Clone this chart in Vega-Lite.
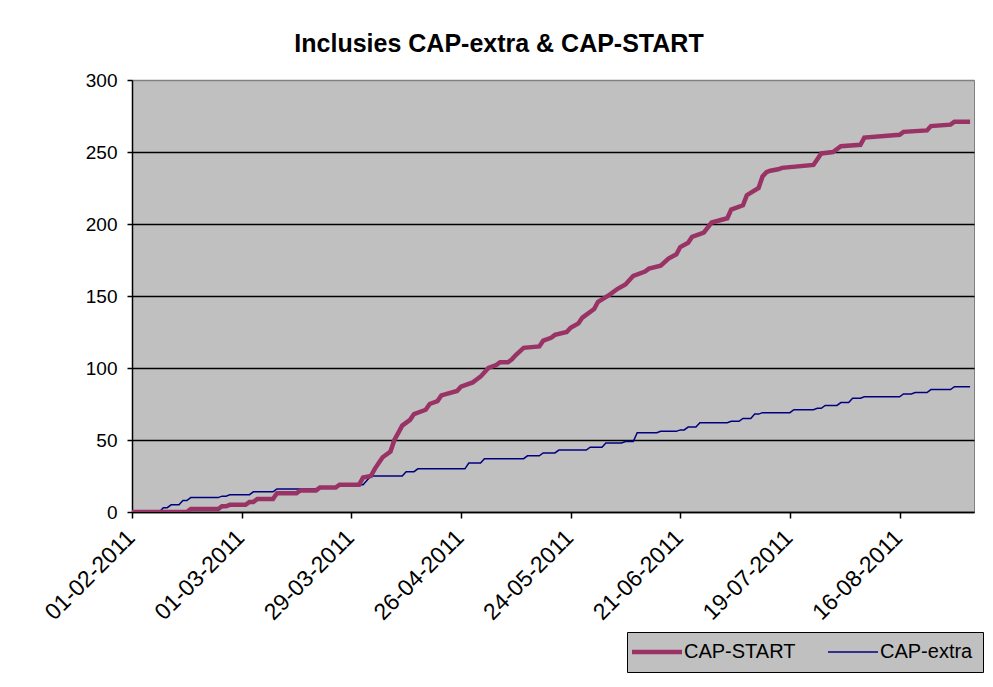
{
  "$schema": "https://vega.github.io/schema/vega-lite/v6.json",
  "width": 842,
  "height": 432,
  "autosize": {"type": "none"},
  "padding": {"left": 132, "top": 80, "right": 19, "bottom": 175},
  "background": "white",
  "title": {
    "text": "Inclusies CAP-extra & CAP-START",
    "font": "Liberation Sans",
    "fontSize": 25,
    "fontWeight": "bold",
    "color": "black",
    "anchor": "middle",
    "dx": -54,
    "offset": 14
  },
  "config": {
    "view": {"fill": "#c0c0c0", "stroke": "#808080", "strokeWidth": 1},
    "axis": {"labelFont": "Liberation Sans", "labelColor": "black", "domainColor": "black", "tickColor": "black", "domainWidth": 1.5, "tickWidth": 1.5},
    "legend": {"labelFont": "Liberation Sans"}
  },
  "data": {
    "values": [
      {"d": "2011-02-01", "s": "CAP-extra", "v": 0},
      {"d": "2011-02-08", "s": "CAP-extra", "v": 0},
      {"d": "2011-02-09", "s": "CAP-extra", "v": 3},
      {"d": "2011-02-10", "s": "CAP-extra", "v": 3},
      {"d": "2011-02-11", "s": "CAP-extra", "v": 5},
      {"d": "2011-02-13", "s": "CAP-extra", "v": 5},
      {"d": "2011-02-14", "s": "CAP-extra", "v": 8},
      {"d": "2011-02-15", "s": "CAP-extra", "v": 8},
      {"d": "2011-02-16", "s": "CAP-extra", "v": 10},
      {"d": "2011-02-23", "s": "CAP-extra", "v": 10},
      {"d": "2011-02-24", "s": "CAP-extra", "v": 11},
      {"d": "2011-02-25", "s": "CAP-extra", "v": 11},
      {"d": "2011-02-26", "s": "CAP-extra", "v": 12},
      {"d": "2011-03-03", "s": "CAP-extra", "v": 12},
      {"d": "2011-03-04", "s": "CAP-extra", "v": 14},
      {"d": "2011-03-09", "s": "CAP-extra", "v": 14},
      {"d": "2011-03-10", "s": "CAP-extra", "v": 16},
      {"d": "2011-03-20", "s": "CAP-extra", "v": 16},
      {"d": "2011-03-21", "s": "CAP-extra", "v": 17},
      {"d": "2011-03-25", "s": "CAP-extra", "v": 17},
      {"d": "2011-03-26", "s": "CAP-extra", "v": 19},
      {"d": "2011-04-01", "s": "CAP-extra", "v": 19},
      {"d": "2011-04-03", "s": "CAP-extra", "v": 25},
      {"d": "2011-04-11", "s": "CAP-extra", "v": 25},
      {"d": "2011-04-12", "s": "CAP-extra", "v": 28},
      {"d": "2011-04-14", "s": "CAP-extra", "v": 28},
      {"d": "2011-04-15", "s": "CAP-extra", "v": 30},
      {"d": "2011-04-27", "s": "CAP-extra", "v": 30},
      {"d": "2011-04-28", "s": "CAP-extra", "v": 34},
      {"d": "2011-05-01", "s": "CAP-extra", "v": 34},
      {"d": "2011-05-02", "s": "CAP-extra", "v": 37},
      {"d": "2011-05-12", "s": "CAP-extra", "v": 37},
      {"d": "2011-05-13", "s": "CAP-extra", "v": 39},
      {"d": "2011-05-16", "s": "CAP-extra", "v": 39},
      {"d": "2011-05-17", "s": "CAP-extra", "v": 41},
      {"d": "2011-05-20", "s": "CAP-extra", "v": 41},
      {"d": "2011-05-21", "s": "CAP-extra", "v": 43},
      {"d": "2011-05-28", "s": "CAP-extra", "v": 43},
      {"d": "2011-05-29", "s": "CAP-extra", "v": 45},
      {"d": "2011-06-01", "s": "CAP-extra", "v": 45},
      {"d": "2011-06-02", "s": "CAP-extra", "v": 48},
      {"d": "2011-06-06", "s": "CAP-extra", "v": 48},
      {"d": "2011-06-07", "s": "CAP-extra", "v": 49},
      {"d": "2011-06-09", "s": "CAP-extra", "v": 49},
      {"d": "2011-06-10", "s": "CAP-extra", "v": 55},
      {"d": "2011-06-15", "s": "CAP-extra", "v": 55},
      {"d": "2011-06-16", "s": "CAP-extra", "v": 56},
      {"d": "2011-06-20", "s": "CAP-extra", "v": 56},
      {"d": "2011-06-21", "s": "CAP-extra", "v": 57},
      {"d": "2011-06-22", "s": "CAP-extra", "v": 57},
      {"d": "2011-06-23", "s": "CAP-extra", "v": 59},
      {"d": "2011-06-25", "s": "CAP-extra", "v": 59},
      {"d": "2011-06-26", "s": "CAP-extra", "v": 62},
      {"d": "2011-07-03", "s": "CAP-extra", "v": 62},
      {"d": "2011-07-04", "s": "CAP-extra", "v": 63},
      {"d": "2011-07-06", "s": "CAP-extra", "v": 63},
      {"d": "2011-07-07", "s": "CAP-extra", "v": 65},
      {"d": "2011-07-09", "s": "CAP-extra", "v": 65},
      {"d": "2011-07-10", "s": "CAP-extra", "v": 68},
      {"d": "2011-07-11", "s": "CAP-extra", "v": 68},
      {"d": "2011-07-12", "s": "CAP-extra", "v": 69},
      {"d": "2011-07-19", "s": "CAP-extra", "v": 69},
      {"d": "2011-07-20", "s": "CAP-extra", "v": 71},
      {"d": "2011-07-25", "s": "CAP-extra", "v": 71},
      {"d": "2011-07-26", "s": "CAP-extra", "v": 72},
      {"d": "2011-07-27", "s": "CAP-extra", "v": 72},
      {"d": "2011-07-28", "s": "CAP-extra", "v": 74},
      {"d": "2011-07-31", "s": "CAP-extra", "v": 74},
      {"d": "2011-08-01", "s": "CAP-extra", "v": 76},
      {"d": "2011-08-03", "s": "CAP-extra", "v": 76},
      {"d": "2011-08-04", "s": "CAP-extra", "v": 79},
      {"d": "2011-08-06", "s": "CAP-extra", "v": 79},
      {"d": "2011-08-07", "s": "CAP-extra", "v": 80},
      {"d": "2011-08-16", "s": "CAP-extra", "v": 80},
      {"d": "2011-08-17", "s": "CAP-extra", "v": 82},
      {"d": "2011-08-19", "s": "CAP-extra", "v": 82},
      {"d": "2011-08-20", "s": "CAP-extra", "v": 83},
      {"d": "2011-08-23", "s": "CAP-extra", "v": 83},
      {"d": "2011-08-24", "s": "CAP-extra", "v": 85},
      {"d": "2011-08-29", "s": "CAP-extra", "v": 85},
      {"d": "2011-08-30", "s": "CAP-extra", "v": 87},
      {"d": "2011-09-03", "s": "CAP-extra", "v": 87},
      {"d": "2011-02-01", "s": "CAP-START", "v": 0},
      {"d": "2011-02-15", "s": "CAP-START", "v": 0},
      {"d": "2011-02-16", "s": "CAP-START", "v": 2},
      {"d": "2011-02-23", "s": "CAP-START", "v": 2},
      {"d": "2011-02-24", "s": "CAP-START", "v": 4},
      {"d": "2011-02-25", "s": "CAP-START", "v": 4},
      {"d": "2011-02-26", "s": "CAP-START", "v": 5},
      {"d": "2011-03-02", "s": "CAP-START", "v": 5},
      {"d": "2011-03-03", "s": "CAP-START", "v": 7},
      {"d": "2011-03-04", "s": "CAP-START", "v": 7},
      {"d": "2011-03-05", "s": "CAP-START", "v": 9},
      {"d": "2011-03-09", "s": "CAP-START", "v": 9},
      {"d": "2011-03-10", "s": "CAP-START", "v": 13},
      {"d": "2011-03-15", "s": "CAP-START", "v": 13},
      {"d": "2011-03-16", "s": "CAP-START", "v": 15},
      {"d": "2011-03-20", "s": "CAP-START", "v": 15},
      {"d": "2011-03-21", "s": "CAP-START", "v": 17},
      {"d": "2011-03-25", "s": "CAP-START", "v": 17},
      {"d": "2011-03-26", "s": "CAP-START", "v": 19},
      {"d": "2011-03-31", "s": "CAP-START", "v": 19},
      {"d": "2011-04-01", "s": "CAP-START", "v": 24},
      {"d": "2011-04-03", "s": "CAP-START", "v": 25},
      {"d": "2011-04-04", "s": "CAP-START", "v": 30},
      {"d": "2011-04-05", "s": "CAP-START", "v": 34},
      {"d": "2011-04-06", "s": "CAP-START", "v": 38},
      {"d": "2011-04-08", "s": "CAP-START", "v": 42},
      {"d": "2011-04-09", "s": "CAP-START", "v": 50},
      {"d": "2011-04-10", "s": "CAP-START", "v": 55},
      {"d": "2011-04-11", "s": "CAP-START", "v": 60},
      {"d": "2011-04-13", "s": "CAP-START", "v": 64},
      {"d": "2011-04-14", "s": "CAP-START", "v": 68},
      {"d": "2011-04-17", "s": "CAP-START", "v": 71},
      {"d": "2011-04-18", "s": "CAP-START", "v": 75},
      {"d": "2011-04-20", "s": "CAP-START", "v": 77},
      {"d": "2011-04-21", "s": "CAP-START", "v": 81},
      {"d": "2011-04-25", "s": "CAP-START", "v": 84},
      {"d": "2011-04-26", "s": "CAP-START", "v": 87},
      {"d": "2011-04-29", "s": "CAP-START", "v": 90},
      {"d": "2011-04-30", "s": "CAP-START", "v": 92},
      {"d": "2011-05-01", "s": "CAP-START", "v": 94},
      {"d": "2011-05-03", "s": "CAP-START", "v": 100},
      {"d": "2011-05-05", "s": "CAP-START", "v": 102},
      {"d": "2011-05-06", "s": "CAP-START", "v": 104},
      {"d": "2011-05-08", "s": "CAP-START", "v": 104},
      {"d": "2011-05-09", "s": "CAP-START", "v": 106},
      {"d": "2011-05-10", "s": "CAP-START", "v": 109},
      {"d": "2011-05-12", "s": "CAP-START", "v": 114},
      {"d": "2011-05-16", "s": "CAP-START", "v": 115},
      {"d": "2011-05-17", "s": "CAP-START", "v": 119},
      {"d": "2011-05-19", "s": "CAP-START", "v": 121},
      {"d": "2011-05-20", "s": "CAP-START", "v": 123},
      {"d": "2011-05-23", "s": "CAP-START", "v": 125},
      {"d": "2011-05-24", "s": "CAP-START", "v": 128},
      {"d": "2011-05-26", "s": "CAP-START", "v": 131},
      {"d": "2011-05-27", "s": "CAP-START", "v": 135},
      {"d": "2011-05-30", "s": "CAP-START", "v": 141},
      {"d": "2011-05-31", "s": "CAP-START", "v": 146},
      {"d": "2011-06-03", "s": "CAP-START", "v": 151},
      {"d": "2011-06-05", "s": "CAP-START", "v": 155},
      {"d": "2011-06-07", "s": "CAP-START", "v": 158},
      {"d": "2011-06-09", "s": "CAP-START", "v": 164},
      {"d": "2011-06-12", "s": "CAP-START", "v": 167},
      {"d": "2011-06-13", "s": "CAP-START", "v": 169},
      {"d": "2011-06-16", "s": "CAP-START", "v": 171},
      {"d": "2011-06-18", "s": "CAP-START", "v": 176},
      {"d": "2011-06-20", "s": "CAP-START", "v": 179},
      {"d": "2011-06-21", "s": "CAP-START", "v": 184},
      {"d": "2011-06-23", "s": "CAP-START", "v": 187},
      {"d": "2011-06-24", "s": "CAP-START", "v": 191},
      {"d": "2011-06-27", "s": "CAP-START", "v": 194},
      {"d": "2011-06-29", "s": "CAP-START", "v": 201},
      {"d": "2011-07-03", "s": "CAP-START", "v": 204},
      {"d": "2011-07-04", "s": "CAP-START", "v": 210},
      {"d": "2011-07-07", "s": "CAP-START", "v": 213},
      {"d": "2011-07-08", "s": "CAP-START", "v": 220},
      {"d": "2011-07-11", "s": "CAP-START", "v": 225},
      {"d": "2011-07-12", "s": "CAP-START", "v": 233},
      {"d": "2011-07-13", "s": "CAP-START", "v": 236},
      {"d": "2011-07-14", "s": "CAP-START", "v": 237},
      {"d": "2011-07-16", "s": "CAP-START", "v": 238},
      {"d": "2011-07-17", "s": "CAP-START", "v": 239},
      {"d": "2011-07-25", "s": "CAP-START", "v": 241},
      {"d": "2011-07-26", "s": "CAP-START", "v": 245},
      {"d": "2011-07-27", "s": "CAP-START", "v": 249},
      {"d": "2011-07-30", "s": "CAP-START", "v": 250},
      {"d": "2011-08-01", "s": "CAP-START", "v": 254},
      {"d": "2011-08-06", "s": "CAP-START", "v": 255},
      {"d": "2011-08-07", "s": "CAP-START", "v": 260},
      {"d": "2011-08-16", "s": "CAP-START", "v": 262},
      {"d": "2011-08-17", "s": "CAP-START", "v": 264},
      {"d": "2011-08-23", "s": "CAP-START", "v": 265},
      {"d": "2011-08-24", "s": "CAP-START", "v": 268},
      {"d": "2011-08-29", "s": "CAP-START", "v": 269},
      {"d": "2011-08-30", "s": "CAP-START", "v": 271},
      {"d": "2011-09-03", "s": "CAP-START", "v": 271}
    ]
  },
  "mark": {"type": "line", "interpolate": "linear", "clip": true},
  "encoding": {
    "x": {
      "field": "d",
      "type": "temporal",
      "scale": {
        "type": "utc",
        "domain": [
          {"year": 2011, "month": 2, "date": 1, "utc": true},
          {"year": 2011, "month": 9, "date": 4, "utc": true}
        ]
      },
      "axis": {
        "title": null,
        "grid": false,
        "format": "%d-%m-%Y",
        "labelAngle": -45,
        "labelFontSize": 23,
        "tickSize": 6,
        "labelPadding": 8,
        "labelOffset": -9,
        "values": [
          {"year": 2011, "month": 2, "date": 1, "utc": true},
          {"year": 2011, "month": 3, "date": 1, "utc": true},
          {"year": 2011, "month": 3, "date": 29, "utc": true},
          {"year": 2011, "month": 4, "date": 26, "utc": true},
          {"year": 2011, "month": 5, "date": 24, "utc": true},
          {"year": 2011, "month": 6, "date": 21, "utc": true},
          {"year": 2011, "month": 7, "date": 19, "utc": true},
          {"year": 2011, "month": 8, "date": 16, "utc": true}
        ]
      }
    },
    "y": {
      "field": "v",
      "type": "quantitative",
      "scale": {"domain": [0, 300], "nice": false},
      "axis": {
        "title": null,
        "values": [0, 50, 100, 150, 200, 250, 300],
        "grid": true,
        "gridColor": {"condition": {"test": "datum.value === 300", "value": "#808080"}, "value": "black"},
        "gridWidth": 1.5,
        "labelFontSize": 19,
        "tickSize": 5,
        "labelPadding": 10
      }
    },
    "color": {
      "field": "s",
      "type": "nominal",
      "scale": {"domain": ["CAP-START", "CAP-extra"], "range": ["#993366", "#000080"]},
      "legend": {
        "title": null,
        "orient": "none",
        "legendX": 495,
        "legendY": 552,
        "direction": "horizontal",
        "fillColor": "#c0c0c0",
        "strokeColor": "black",
        "padding": 10,
        "symbolType": "M-5,0L5,0",
        "symbolSize": 100,
        "symbolOffset": 10,
        "labelFontSize": 20,
        "labelColor": "black",
        "columnPadding": 29,
        "labelOffset": 17
      }
    },
    "strokeWidth": {
      "field": "s",
      "type": "nominal",
      "scale": {"type": "ordinal", "domain": ["CAP-START", "CAP-extra"], "range": [4.5, 1.5]},
      "legend": {
        "title": null,
        "orient": "none",
        "legendX": 495,
        "legendY": 552,
        "direction": "horizontal",
        "fillColor": "#c0c0c0",
        "strokeColor": "black",
        "padding": 10,
        "symbolType": "M-5,0L5,0",
        "symbolSize": 100,
        "symbolOffset": 10,
        "labelFontSize": 20,
        "labelColor": "black",
        "columnPadding": 29,
        "labelOffset": 17
      }
    }
  }
}
